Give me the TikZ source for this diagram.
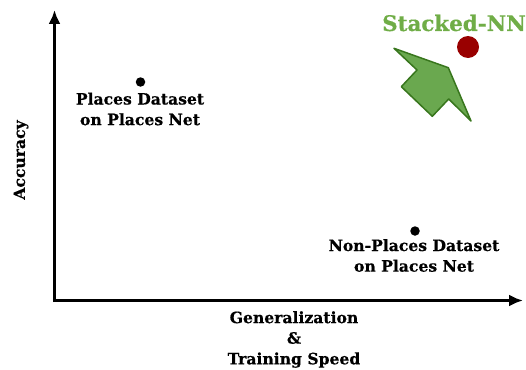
\documentclass[tikz,border=0pt]{standalone}
\usepackage{fontspec}
\setmainfont[BoldFeatures={FakeBold=0.5}]{DejaVu Serif}
\usetikzlibrary{arrows.meta}
\definecolor{nngreen}{HTML}{70AD47}
\definecolor{nnfill}{HTML}{6AA84F}
\definecolor{nnedge}{HTML}{38761D}
\definecolor{nnred}{HTML}{990000}
\tikzset{
  axisline/.style={line width=3.3pt,-{Latex[length=14pt,width=12pt]}},
  lbl/.style={font=\fontsize{15.6}{20.6}\selectfont\bfseries,align=center,inner sep=0pt,text=black},
  dotnode/.style={circle,fill=black,minimum size=9.5pt,inner sep=0pt},
}
\begin{document}
\begin{tikzpicture}[x=1pt,y=-1pt]
\useasboundingbox (0,0) rectangle (526,369);
\coordinate (origin) at (54.5,300.5);
\coordinate (xend) at (523,300.5);
\coordinate (yend) at (54.5,10);
\draw[axisline,shorten <=-1.6pt] (origin) -- (xend);
\draw[axisline,shorten <=-1.6pt] (origin) -- (yend);
\node[dotnode] (p1) at (140.5,82) {};
\node[dotnode] (p2) at (415,231) {};
\node[circle,fill=nnred,minimum size=22pt,inner sep=0pt] (p3) at (468,47) {};
\filldraw[fill=nnfill,draw=nnedge,line width=1.5pt,line join=round]
  (394,48.3) -- (448.3,67.7) -- (471,121) -- (448.7,99) -- (432.3,116.3) -- (401.3,86.7) -- (417,70) -- cycle;
\node[lbl] (l1) at (140,109) {Places Dataset\\on Places Net};
\node[lbl] (l2) at (414,255.5) {Non-Places Dataset\\on Places Net};
\node[lbl] (l3) at (294,339.5) {Generalization\\\&\\Training Speed};
\node[lbl,rotate=90] (l4) at (21,160) {Accuracy};
\node[lbl,font=\fontsize{21.4}{24}\selectfont\bfseries,text=nngreen] (l5) at (454,23) {Stacked-NN};
\end{tikzpicture}
\end{document}
